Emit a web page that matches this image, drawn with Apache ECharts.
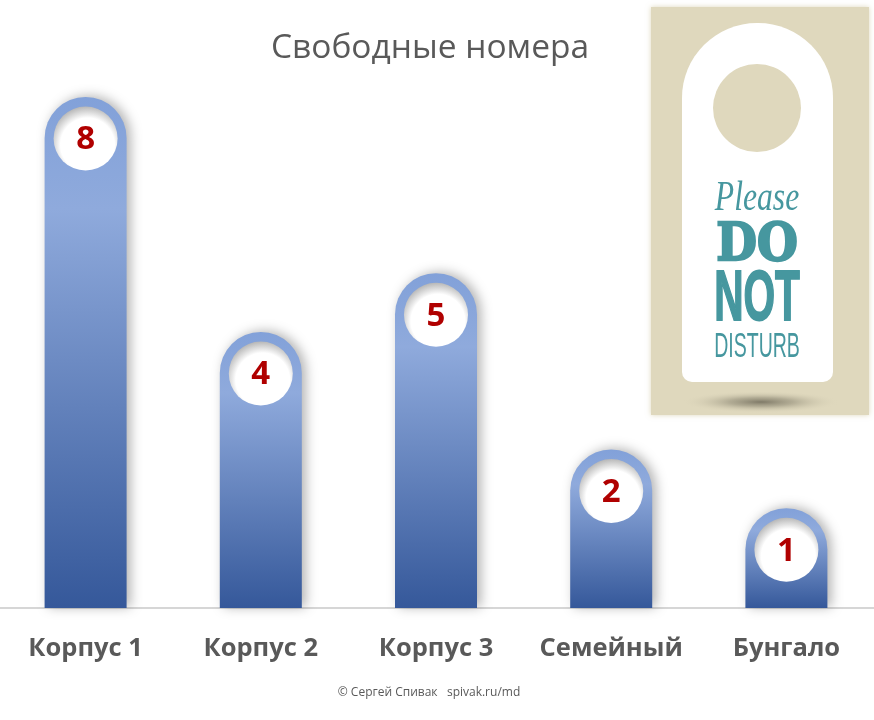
<!DOCTYPE html>
<html>
<head>
<meta charset="utf-8">
<style>
  html, body { margin: 0; padding: 0; background: #fff; }
  #chart { width: 874px; height: 720px; }
</style>
<script src="https://cdn.jsdelivr.net/npm/echarts@6/dist/echarts.min.js"></script>
</head>
<body>
<div id="chart"></div>
<script>
var categories = ["Корпус 1", "Корпус 2", "Корпус 3", "Семейный", "Бунгало"];
var freeRooms = [8, 4, 5, 2, 1];
var titleText = "Свободные номера";
var creditText = "© Сергей Спивак   spivak.ru/md";

var chart = echarts.init(document.getElementById("chart"));
var fontName = "'Open Sans', 'Noto Sans', sans-serif";
var teal = "#46979f";
var BAR_HALF = 41;
var HOLE_R = 32;

function renderPill(params, api) {
    var value = api.value(1);
    var top = api.coord([api.value(0), value]);
    var base = api.coord([api.value(0), 0]);
    var cx = top[0];
    return {
        type: "group",
        children: [{
            type: "rect",
            shape: { x: cx - BAR_HALF, y: top[1] - BAR_HALF, width: BAR_HALF * 2, height: base[1] - top[1] + BAR_HALF, r: [BAR_HALF, BAR_HALF, 0, 0] },
            style: {
                fill: new echarts.graphic.LinearGradient(0, 0, 0, 1, [
                    { offset: 0, color: "#82a1d9" },
                    { offset: 0.22, color: "#8faadc" },
                    { offset: 1, color: "#35589a" }
                ]),
                shadowColor: "rgba(0,0,0,0.3)",
                shadowBlur: 12,
                shadowOffsetX: 4,
                shadowOffsetY: -1
            }
        }, {
            type: "circle",
            shape: { cx: cx, cy: top[1] + 0.5, r: HOLE_R },
            style: {
                fill: new echarts.graphic.RadialGradient(0.53, 0.6, 0.62, [
                    { offset: 0, color: "#ffffff" },
                    { offset: 0.68, color: "#ffffff" },
                    { offset: 1, color: "#b0b0b0" }
                ])
            }
        }, {
            type: "text",
            style: {
                x: cx,
                y: top[1] + 2,
                text: String(value),
                align: "center",
                verticalAlign: "middle",
                font: "bold 33px " + fontName,
                fill: "#b00000"
            }
        }]
    };
}

function hangerText(str, y, font, sx, sy, extra) {
    return {
        type: "text",
        x: 757, y: y, scaleX: sx, scaleY: sy, z: 11,
        style: Object.assign({ text: str, font: font, fill: teal, align: "center", verticalAlign: "middle" }, extra || {})
    };
}

chart.setOption({
    animation: false,
    backgroundColor: "#ffffff",
    title: [{
        text: titleText,
        left: 425,
        top: 26,
        textAlign: "center",
        textStyle: { fontFamily: fontName, fontSize: 33.5, fontWeight: "normal", color: "#595959" }
    }, {
        text: creditText,
        left: 424,
        top: 682,
        textAlign: "center",
        textStyle: { fontFamily: fontName, fontSize: 12, fontWeight: "normal", color: "#595959" }
    }],
    grid: { left: -2, width: 876, top: 20.5, height: 587.5, outerBoundsMode: "none" },
    xAxis: {
        type: "category",
        data: categories,
        axisTick: { show: false },
        axisLine: { lineStyle: { color: "#d6d6d6", width: 2 } },
        axisLabel: { margin: 28, fontFamily: fontName, fontSize: 25.5, fontWeight: "bold", color: "#595959", interval: 0 }
    },
    yAxis: { type: "value", min: 0, max: 10, show: false },
    series: [{
        type: "custom",
        renderItem: renderPill,
        encode: { x: 0, y: 1 },
        clip: false,
        data: freeRooms.map(function (v, i) { return [i, v]; })
    }],
    graphic: [
        { type: "rect", shape: { x: 651, y: 7, width: 218, height: 408 }, style: { fill: "#dfd8bd", shadowColor: "#dfd8bd", shadowBlur: 5 }, z: 10 },
        { type: "circle", x: 761, y: 402, scaleX: 7.2, scaleY: 1, shape: { cx: 0, cy: 0, r: 11 }, style: { fill: new echarts.graphic.RadialGradient(0.5, 0.5, 0.5, [
            { offset: 0, color: "rgba(110,105,88,0.85)" },
            { offset: 0.4, color: "rgba(140,135,115,0.55)" },
            { offset: 1, color: "rgba(223,216,189,0)" }
        ]) }, z: 10 },
        { type: "rect", shape: { x: 682, y: 23, width: 151, height: 359, r: [75, 75, 10, 10] }, style: { fill: "#ffffff" }, z: 10 },
        { type: "circle", shape: { cx: 757, cy: 108, r: 44 }, style: { fill: "#dfd8bd" }, z: 10 },
        hangerText("Please", 199, "italic 36px 'Liberation Serif', serif", 0.88, 1.15),
        hangerText("DO", 246, "bold 46px 'DejaVu Serif', serif", 1.02, 1.15, { stroke: teal, lineWidth: 2 }),
        hangerText("NOT", 301, "bold 58px 'Liberation Sans', sans-serif", 0.7, 1.2, { stroke: teal, lineWidth: 1.5 }),
        hangerText("DISTURB", 347, "normal 31px 'Liberation Sans', sans-serif", 0.63, 1.15)
    ]
});
</script>
</body>
</html>
